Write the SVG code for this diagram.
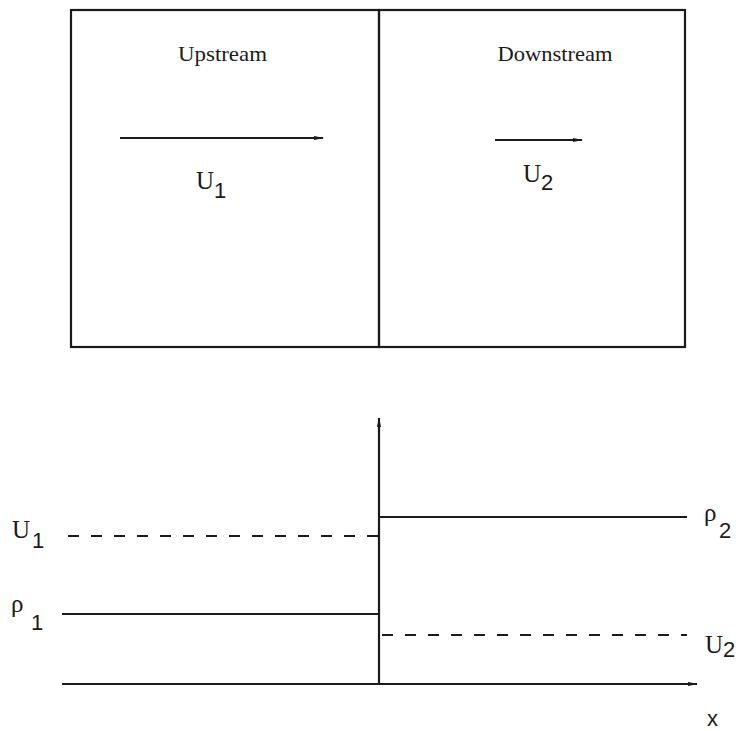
<svg xmlns="http://www.w3.org/2000/svg" width="741" height="731" viewBox="0 0 741 731">
<style>
.ln{stroke:#1a1a1a;stroke-width:2.2;fill:none}
.ds{stroke:#1a1a1a;stroke-width:2.2;fill:none;stroke-dasharray:11 12}
.t{font-family:"Liberation Serif","Times New Roman",serif;fill:#1a1a1a}
.h{font-size:22px}
.m{font-size:25px}
.r{font-size:25px}
.s{font-family:"Liberation Sans",Arial,sans-serif;font-size:22px;fill:#1a1a1a}
</style>
<defs>
<marker id="ah" markerWidth="10" markerHeight="6" refX="9" refY="3" orient="auto" markerUnits="userSpaceOnUse">
<path d="M0,1 L10,3 L0,5 Z" fill="#1a1a1a"/>
</marker>
</defs>
<rect width="741" height="731" fill="#ffffff"/>
<g id="upstream-box">
<rect x="71" y="10" width="308" height="337" class="ln"/>
<text class="t h" x="222.5" y="61" text-anchor="middle" textLength="89" lengthAdjust="spacingAndGlyphs">Upstream</text>
</g>
<g id="downstream-box">
<rect x="379" y="10" width="306" height="337" class="ln"/>
<text class="t h" x="555" y="61" text-anchor="middle" textLength="115" lengthAdjust="spacingAndGlyphs">Downstream</text>
</g>
<g id="connectors">
<line x1="120" y1="138" x2="323" y2="138" class="ln" marker-end="url(#ah)"/>
<line x1="495" y1="140" x2="582" y2="140" class="ln" marker-end="url(#ah)"/>
<line x1="379" y1="683" x2="379" y2="418" class="ln" marker-end="url(#ah)"/>
<line x1="62" y1="684" x2="697" y2="684" class="ln" marker-end="url(#ah)"/>
</g>
<g id="u1-label">
<text class="t m" x="196" y="189">U</text>
<text class="s" x="214" y="198">1</text>
</g>
<g id="u2-label">
<text class="t m" x="523" y="182">U</text>
<text class="s" x="541" y="190">2</text>
</g>
<g id="profiles">
<line x1="68" y1="536" x2="379" y2="536" class="ds"/>
<line x1="62" y1="614" x2="379" y2="614" class="ln"/>
<line x1="379" y1="517" x2="687" y2="517" class="ln"/>
<line x1="382" y1="635" x2="687" y2="635" class="ds"/>
</g>
<g id="left-labels">
<text class="t m" x="12" y="538">U</text>
<text class="s" x="32" y="548">1</text>
<text class="t r" x="11" y="612">ρ</text>
<text class="s" x="31" y="630">1</text>
</g>
<g id="right-labels">
<text class="t r" x="704" y="521">ρ</text>
<text class="s" x="719" y="538">2</text>
<text class="t m" x="705" y="653">U</text>
<text class="s" x="723" y="657">2</text>
<text class="s" x="707" y="726">x</text>
</g>
</svg>
